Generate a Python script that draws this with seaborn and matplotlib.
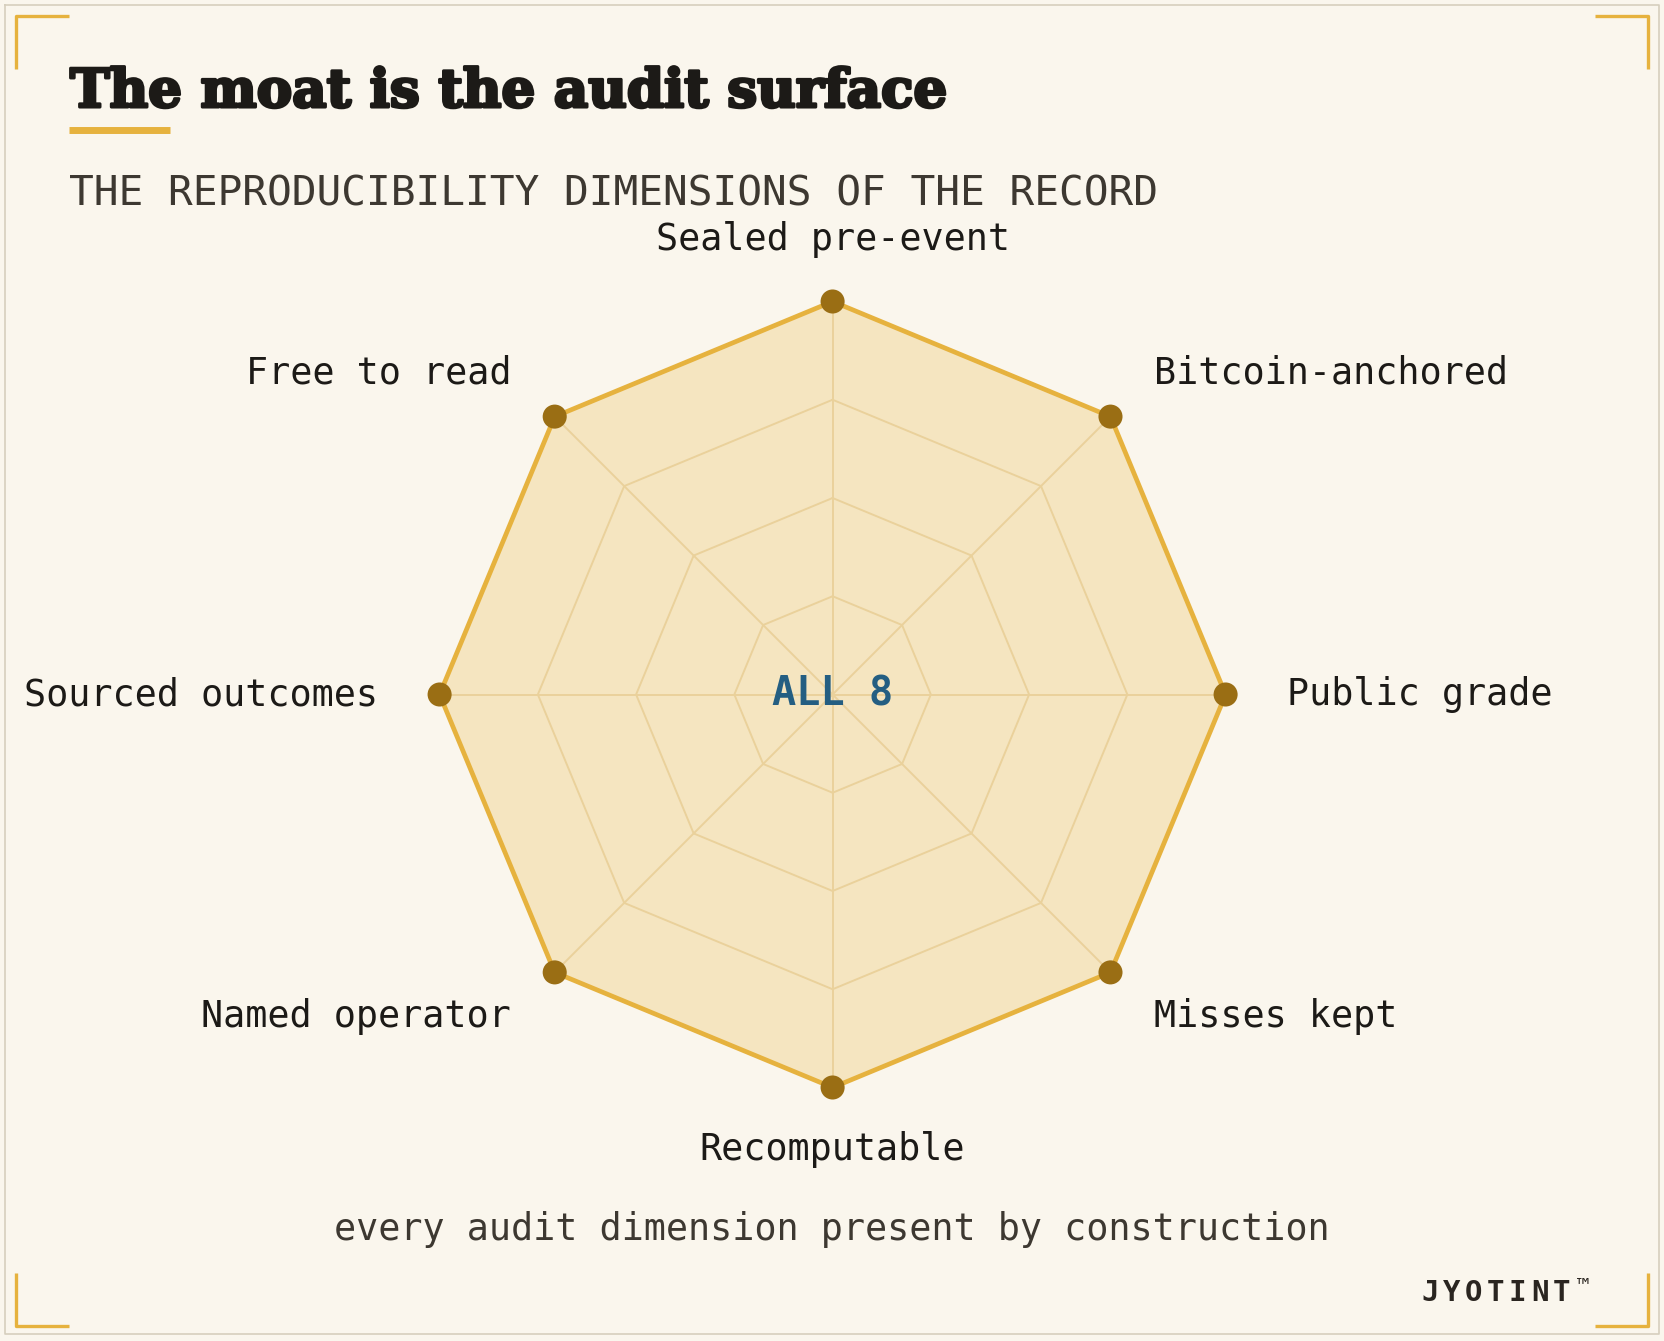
import matplotlib.pyplot as plt
import matplotlib.patheffects as pe
import numpy as np
import seaborn as sns

# Data
dimensions = ['Sealed pre-event', 'Bitcoin-anchored', 'Public grade', 'Misses kept',
              'Recomputable', 'Named operator', 'Sourced outcomes', 'Free to read']
coverage = [1, 1, 1, 1, 1, 1, 1, 1]
ring_levels = [0.25, 0.5, 0.75, 1.0]

title = 'The moat is the audit surface'
subtitle = 'THE REPRODUCIBILITY DIMENSIONS OF THE RECORD'
center_text = 'ALL 8'
caption = 'every audit dimension present by construction'
brand = 'JYOTINT'

BG = '#faf6ed'
GOLD = '#e6b23e'
DOT = '#9a6e14'
GRID = '#ebdbba'
INK = '#1c1a17'
MUTED = '#3d3831'
BLUE = '#245e82'

sns.set_theme(style='white', rc={'figure.facecolor': BG, 'axes.facecolor': BG})
plt.rcParams['font.family'] = ['DejaVu Sans Mono', 'DejaVu Sans']

W, H = 1665, 1341
fig = plt.figure(figsize=(W / 100, H / 100), dpi=100)

# overlay in pixel coordinates for frame and text
bg = fig.add_axes([0, 0, 1, 1])
bg.set_xlim(0, W)
bg.set_ylim(H, 0)
bg.axis('off')
bg.set_zorder(0)

# outer thin border
bg.plot([5, W - 6, W - 6, 5, 5], [5, 5, H - 7, H - 7, 5], color='#d6cfbe', lw=1.2)
# gold corner brackets
L = 53
for cx, cy, dx, dy in [(16, 16, 1, 1), (W - 17, 16, -1, 1), (16, H - 15, 1, -1), (W - 17, H - 15, -1, -1)]:
    bg.plot([cx + dx * L, cx, cx], [cy, cy, cy + dy * L], color=GOLD, lw=2.4, solid_capstyle='butt')

renderer = fig.canvas.get_renderer()

# title, fitted to its width, thickened to look like a heavy serif
t = bg.text(70, 107, title, family='DejaVu Serif', weight='bold', fontsize=40, color=INK,
            ha='left', va='baseline',
            path_effects=[pe.withStroke(linewidth=2.2, foreground=INK)])
w = t.get_window_extent(renderer).width
t.set_fontsize(40 * 876 / w)

# gold rule under title
bg.plot([69, 170], [129.5, 129.5], color=GOLD, lw=5, solid_capstyle='butt')

s = bg.text(69, 205, subtitle, fontsize=30, color=MUTED, ha='left', va='baseline')
w = s.get_window_extent(renderer).width
s.set_fontsize(30 * 1086 / w)

bg.text(832, 1229, caption, fontsize=26.5, color=MUTED, ha='center', va='center')

# brand with letter spacing
x0 = 1421
for i, ch in enumerate(brand):
    bg.text(x0 + i * 22, 1301, ch, fontsize=21, weight='bold', color='#2a2520',
            ha='left', va='baseline')
bg.text(1577, 1292, '\u2122', fontsize=15, color='#2a2520', ha='left', va='baseline')

# radar
cx, cy, R = 832.6, 694.5, 393
ax = fig.add_axes([(cx - R) / W, (H - cy - R) / H, 2 * R / W, 2 * R / H], projection='polar')
ax.set_zorder(1)
ax.patch.set_alpha(0)
ax.set_theta_zero_location('N')
ax.set_theta_direction(-1)
ax.set_ylim(0, 1)
ax.set_xticks([])
ax.set_yticks([])
ax.grid(False)
ax.spines['polar'].set_visible(False)

n = len(dimensions)
theta = np.linspace(0, 2 * np.pi, n, endpoint=False)
theta_c = np.append(theta, theta[0])

# polygon grid
for lvl in ring_levels:
    ax.plot(theta_c, [lvl] * (n + 1), color=GRID, lw=1.4, zorder=1)
for th in theta:
    ax.plot([th, th], [0, 1], color=GRID, lw=1.4, zorder=1)

vals = np.array(coverage, dtype=float)
vals_c = np.append(vals, vals[0])
ax.fill(theta_c, vals_c, color='#e8b84a', alpha=0.27, lw=0, zorder=2)
sns.lineplot(x=theta_c, y=vals_c, sort=False, ax=ax, color=GOLD, lw=3.4, zorder=3,
             estimator=None)
sns.scatterplot(x=theta, y=vals, ax=ax, color=DOT, s=300, edgecolor='none', zorder=4,
                clip_on=False)
for coll in ax.collections:
    coll.set_clip_on(False)
for ln in ax.lines:
    ln.set_clip_on(False)

for th, lab in zip(theta, dimensions):
    sx = np.sin(th)
    ha = 'left' if sx > 0.1 else ('right' if sx < -0.1 else 'center')
    ax.text(th, 1.157, lab, fontsize=26.5, color=INK, ha=ha, va='center', clip_on=False)

ax.text(0, 0, center_text, fontsize=29, weight='bold', color=BLUE, ha='center', va='center',
        zorder=5)

fig.savefig('out.png', dpi=100, facecolor=BG)
